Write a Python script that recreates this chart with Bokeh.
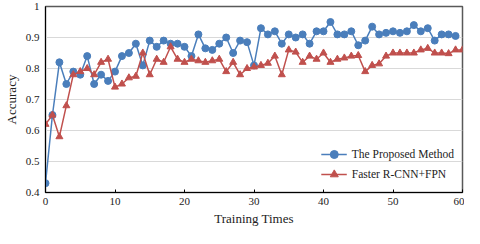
from bokeh.plotting import figure
from bokeh.models import Range1d, FixedTicker, Legend, LegendItem
from bokeh.embed import file_html
from bokeh.resources import INLINE

x_proposed = list(range(0, 60))
proposed = [0.43, 0.65, 0.82, 0.75, 0.79, 0.78, 0.84, 0.75, 0.78, 0.76,
            0.79, 0.84, 0.85, 0.88, 0.81, 0.89, 0.87, 0.89, 0.88, 0.88,
            0.87, 0.84, 0.91, 0.865, 0.86, 0.88, 0.90, 0.85, 0.89, 0.885,
            0.81, 0.93, 0.91, 0.92, 0.88, 0.91, 0.90, 0.91, 0.88, 0.92,
            0.92, 0.95, 0.91, 0.91, 0.92, 0.875, 0.89, 0.935, 0.91, 0.915,
            0.92, 0.915, 0.92, 0.94, 0.92, 0.93, 0.89, 0.91, 0.91, 0.905]

x_faster = list(range(0, 61))
faster = [0.62, 0.65, 0.58, 0.68, 0.78, 0.79, 0.80, 0.78, 0.82, 0.83,
          0.74, 0.75, 0.77, 0.775, 0.85, 0.78, 0.83, 0.82, 0.87, 0.83,
          0.82, 0.83, 0.825, 0.82, 0.825, 0.83, 0.79, 0.82, 0.78, 0.80,
          0.805, 0.81, 0.817, 0.84, 0.78, 0.86, 0.853, 0.82, 0.84, 0.83,
          0.85, 0.82, 0.83, 0.834, 0.84, 0.842, 0.79, 0.81, 0.815, 0.84,
          0.85, 0.85, 0.85, 0.85, 0.86, 0.865, 0.85, 0.85, 0.848, 0.86, 0.86]

x_ticks = [0, 10, 20, 30, 40, 50, 60]
y_ticks = [0.4, 0.5, 0.6, 0.7, 0.8, 0.9, 1.0]
y_tick_labels = ["0.4", "0.5", "0.6", "0.7", "0.8", "0.9", "1"]

series_names = ["The Proposed Method", "Faster R-CNN+FPN"]
blue = "#4A7EBB"
red = "#C0504D"
FONT = "Liberation Serif"

p = figure(width=464, height=228, output_backend="svg", toolbar_location=None,
           x_range=Range1d(0, 60), y_range=Range1d(0.4, 1.0),
           min_border_left=10, min_border_right=2, min_border_top=6,
           min_border_bottom=0)

p.outline_line_color = "#595959"
p.outline_line_width = 1.5

p.xgrid.grid_line_color = None
p.ygrid.grid_line_color = "#D9D9D9"
p.ygrid.grid_line_width = 1

p.xaxis.ticker = FixedTicker(ticks=x_ticks)
p.yaxis.ticker = FixedTicker(ticks=y_ticks)
p.yaxis.major_label_overrides = {t: l for t, l in zip(y_ticks, y_tick_labels)}

for ax in (p.xaxis[0], p.yaxis[0]):
    ax.axis_line_color = "black"
    ax.axis_line_width = 1
    ax.major_label_text_font = FONT
    ax.major_label_text_font_size = "11px"
    ax.major_label_text_color = "#222222"
    ax.axis_label_text_font = FONT
    ax.axis_label_text_font_size = "13px"
    ax.axis_label_text_font_style = "normal"
    ax.axis_label_text_color = "#222222"
    ax.minor_tick_line_color = None

p.xaxis.major_tick_in = 3
p.xaxis.major_tick_out = 0
p.xaxis.major_tick_line_color = "black"
p.yaxis.major_tick_in = 0
p.yaxis.major_tick_out = 0
p.xaxis.axis_label = "Training Times"
p.yaxis.axis_label = "Accuracy"
p.xaxis.major_label_standoff = 5
p.yaxis.major_label_standoff = 6
p.xaxis.axis_label_standoff = 3
p.yaxis.axis_label_standoff = 4

l1 = p.line(x_proposed, proposed, line_color=blue, line_width=1.5)
m1 = p.scatter(x_proposed, proposed, marker="circle", size=7,
               fill_color=blue, line_color=blue)
l2 = p.line(x_faster, faster, line_color=red, line_width=1.5)
m2 = p.scatter(x_faster, faster, marker="triangle", size=7,
               fill_color=red, line_color=red)

legend = Legend(items=[LegendItem(label=series_names[0], renderers=[l1, m1]),
                       LegendItem(label=series_names[1], renderers=[l2, m2])],
                location="bottom_right")
legend.background_fill_alpha = 0
legend.border_line_alpha = 0
legend.label_text_font = FONT
legend.label_text_font_size = "11.5px"
legend.label_text_color = "#222222"
legend.glyph_width = 26
legend.spacing = 0
legend.margin = 3
legend.padding = 5
p.add_layout(legend)

open("out.html", "w").write(file_html(p, INLINE))
